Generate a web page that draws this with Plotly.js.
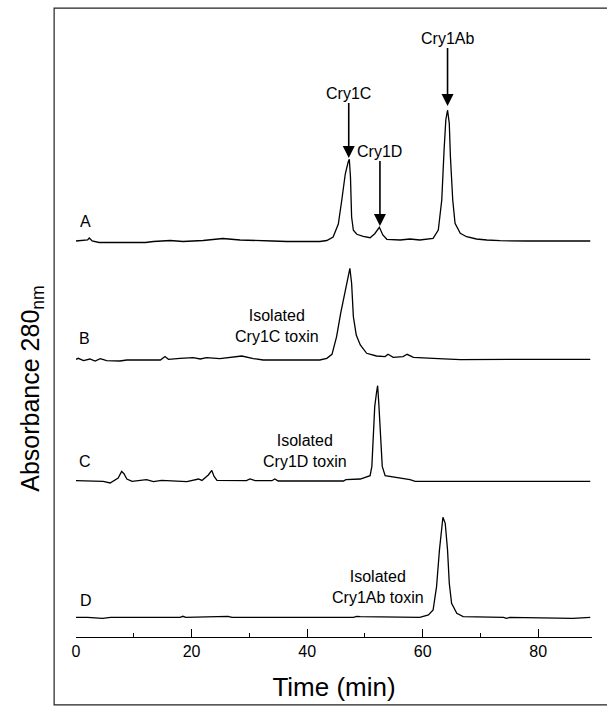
<!DOCTYPE html>
<html>
<head>
<meta charset="utf-8">
<script src="https://cdn.plot.ly/plotly-3.0.1.min.js"></script>
<style>
html,body{margin:0;padding:0;background:#fff;}
#chart{width:607px;height:707px;}
</style>
</head>
<body>
<div id="chart"></div>
<script>
// Retention time (min) and absorbance signal (arbitrary units) for each chromatogram
var timeA = [0, 1.5, 2.0, 2.3, 2.8, 4, 8, 12, 13.4, 16.3, 18.5, 20, 22, 25.4, 28.4, 34, 36.5, 42.2, 43.4, 44.5, 45.4, 46.0, 46.6, 47.1, 47.3, 47.5, 47.7, 48.0, 48.6, 49.7, 50.9, 51.7, 52.5, 53.1, 53.8, 56.1, 57.8, 59.5, 61.8, 62.7, 63.3, 63.7, 64.0, 64.3, 64.6, 64.8, 65.2, 65.6, 66.5, 67.6, 69.3, 71.1, 73.4, 78, 84, 89];
var sigA  = [0, 0.3, 1, 3, 0, -1.5, -1.5, -1.5, -0.5, 0.5, -0.5, 0, 0.5, 2.5, 1, 0, -0.5, -0.5, 0.5, 4, 17, 41, 67, 79, 81.7, 64, 24, 10.7, 6.7, 4.7, 3.3, 7.3, 13.7, 6, 1.7, 1, 2, 1, 2.7, 11, 41, 91, 121, 131, 117.7, 84, 41, 17.7, 7.7, 4.3, 2, 1, 0.3, 0, 0, 0];

var timeB = [0, 0.4, 1.3, 2.4, 3.3, 4.2, 5.3, 7.6, 8.8, 14.6, 15.4, 16.0, 18.0, 20.3, 21.5, 22.6, 24.9, 27.2, 28.7, 30.7, 32.4, 42.2, 43.4, 44.3, 45.1, 45.8, 46.6, 47.1, 47.4, 47.7, 48.0, 48.5, 49.2, 50.3, 52.0, 53.5, 54.0, 54.9, 56.6, 57.3, 58.4, 61.8, 63.6, 66.5, 75, 89];
var sigB  = [0, 1, -1.3, 0.3, -1.7, 0.7, -1.3, -1.7, -0.7, -0.7, 2.7, 0, 1, 1.7, 0.3, 1.7, 0.7, 2.7, 3.3, 0.7, -0.7, -0.7, 1, 5, 22.7, 46, 69.3, 84.3, 91, 76, 42.7, 24.3, 14.3, 6, 3.3, 2.7, 5, 2, 2.7, 5, 2, 1, 0.3, -0.3, 0, 0];

var timeC = [0, 4.7, 5.9, 6.8, 7.3, 7.9, 8.3, 8.8, 9.7, 12.2, 13.4, 14.8, 19.2, 21.2, 21.8, 22.9, 23.5, 23.9, 24.4, 29.5, 30.1, 31.0, 33.9, 34.4, 35.0, 46.3, 46.7, 49.2, 50.3, 50.9, 51.2, 51.5, 51.7, 52.0, 52.2, 52.4, 52.7, 53.0, 53.5, 54.9, 56.1, 57.8, 58.7, 66.5, 89];
var sigC  = [0, -0.7, -2.3, 1, 2.7, 9.3, 7, 1.7, -0.7, 1, -1, 0.3, -1, 1.7, 0.3, 5.7, 10.3, 4.3, 0.3, 0, 1.7, 0, 0, 1.7, -0.3, -0.3, 1, 1.7, 3.7, 5, 14.3, 51, 74.3, 87.7, 95, 77.7, 44.3, 14.3, 5, 3.7, 2.7, 1, -0.7, -0.7, -0.7];

var timeD = [0, 2, 4.6, 6, 18, 18.5, 19, 24, 26.3, 27, 48, 48.6, 49.2, 59.5, 61.0, 61.8, 62.4, 62.9, 63.3, 63.5, 63.9, 64.3, 64.6, 65.0, 65.9, 67.0, 74, 74.5, 75.1, 82, 84, 86, 89];
var sigD  = [0, 0, -1, 0, 0, 1, 0, 1, 1, 0, 0, 1, 0.7, 0, 2.3, 7.3, 30.7, 67.3, 94, 100, 94, 67.3, 34, 14, 4, 0.7, 0, -1, 0, -0.5, -1, -1, 0];

// vertical stacking offsets of the four chromatograms
var traceNames = ['A', 'B', 'C', 'D'];
var offsets = [396, 277.7, 156.3, 19.7];

// axis ticks
var majorTicks = [0, 20, 40, 60, 80];
var minorTicks = [10, 30, 50, 70, 89.3];

var times = [timeA, timeB, timeC, timeD];
var sigs = [sigA, sigB, sigC, sigD];

var FONT = 'Liberation Sans, Arial, Helvetica, sans-serif';

var data = traceNames.map(function (n, i) {
  return {
    x: times[i],
    y: sigs[i].map(function (v) { return v + offsets[i]; }),
    type: 'scatter',
    mode: 'lines',
    name: n,
    line: {color: '#000', width: 1.3},
    hoverinfo: 'skip'
  };
});

var annotations = [
  {x: 1.6, y: 416, text: 'A'},
  {x: 1.5, y: 299, text: 'B'},
  {x: 1.6, y: 176, text: 'C'},
  {x: 1.8, y: 37, text: 'D'},
  {x: 34.7, y: 311.5, text: 'Isolated<br>Cry1C toxin'},
  {x: 39.6, y: 186.5, text: 'Isolated<br>Cry1D toxin'},
  {x: 52.3, y: 50, text: 'Isolated<br>Cry1Ab toxin'}
].map(function (a) {
  return {x: a.x, y: a.y, xref: 'x', yref: 'y', text: a.text, showarrow: false,
          font: {family: FONT, size: 16, color: '#000'}, align: 'center'};
});

// peak labels with arrows pointing at the peaks: [label, time, arrow-tip y, label offset px]
[['Cry1C', 47.2, 479, -65], ['Cry1D', 52.6, 411, -75], ['Cry1Ab', 64.3, 531, -68]].forEach(function (a) {
  annotations.push({x: a[1], y: a[2], xref: 'x', yref: 'y', text: a[0], showarrow: true,
    ax: 0, ay: a[3], arrowhead: 2, arrowsize: 1.5, arrowwidth: 1.6, arrowcolor: '#000', standoff: 0,
    font: {family: FONT, size: 16, color: '#000'}});
});

// y-axis title
annotations.push({x: -0.0856, y: 0.402, xref: 'paper', yref: 'paper', xanchor: 'center', yanchor: 'middle',
  text: 'Absorbance 280<sub>nm</sub>', showarrow: false, textangle: -90,
  font: {family: FONT, size: 25, color: '#000'}});

var layout = {
  width: 607, height: 707,
  margin: {l: 76, r: 15, t: 20, b: 70},
  paper_bgcolor: '#fff', plot_bgcolor: '#fff',
  showlegend: false,
  font: {family: FONT, color: '#000'},
  xaxis: {
    range: [0, 89.3], showgrid: false, zeroline: false,
    showline: true, linecolor: '#000', linewidth: 1,
    ticks: 'inside', ticklen: 8, tickwidth: 1, tickcolor: '#000',
    tickmode: 'array', tickvals: majorTicks, ticktext: majorTicks.map(String),
    minor: {tickmode: 'array', tickvals: minorTicks, ticks: 'inside', ticklen: 4, tickwidth: 1, tickcolor: '#000'},
    tickfont: {family: FONT, size: 16, color: '#000'},
    title: {text: 'Time (min)', font: {family: FONT, size: 26, color: '#000'}, standoff: 18}
  },
  yaxis: {range: [0, 617], visible: false, fixedrange: true},
  annotations: annotations,
  shapes: [{type: 'rect', xref: 'paper', yref: 'paper', x0: -0.0424, x1: 1.04, y0: -0.11, y1: 1.0194,
            line: {color: '#222', width: 1.2}, fillcolor: 'rgba(0,0,0,0)'}]
};

Plotly.newPlot('chart', data, layout, {staticPlot: true, displayModeBar: false});
</script>
</body>
</html>
